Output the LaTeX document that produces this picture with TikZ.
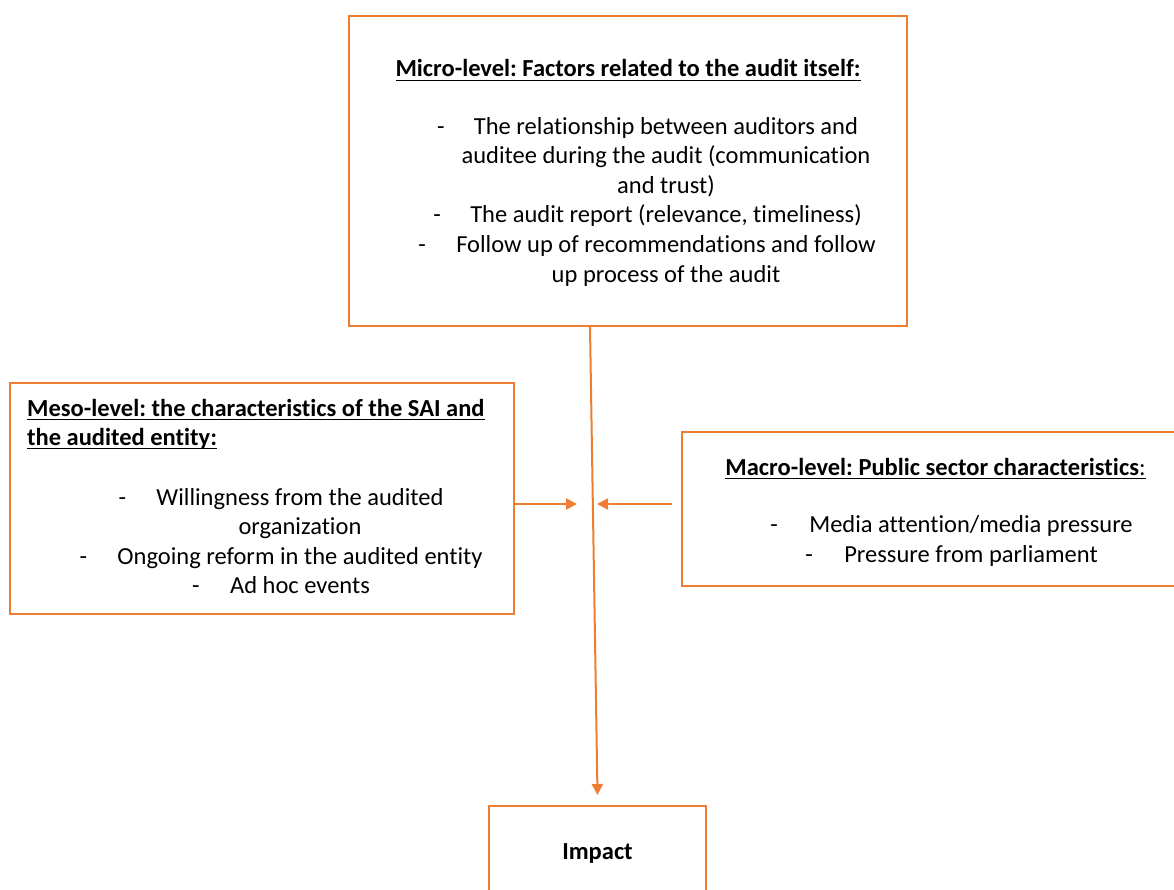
\documentclass[tikz,border=0pt]{standalone}
\usepackage{fontspec}
\setmainfont[Ligatures=NoCommon, RawFeature={-liga;-clig;-calt;-dlig}]{Carlito}
\frenchspacing
\usetikzlibrary{arrows.meta}
\definecolor{lvlorange}{HTML}{ED7D31}
\newcommand{\ulfix}[1]{\setbox0\hbox{#1}\rlap{\vrule width\wd0 height -2.6pt depth 3.8pt}\box0}

\begin{document}
\begin{tikzpicture}[x=1pt, y=-1pt,
  box/.style={draw=lvlorange, line width=2pt, inner sep=0pt},
  txt/.style={inner sep=0pt, anchor=base, font=\fontsize{24.5}{29.8}\selectfont},
  bul/.style={txt, anchor=base east},
  link/.style={draw=lvlorange, line width=2pt, -{Triangle[length=11pt,width=11pt]}}]

\useasboundingbox (0,0) rectangle (1174,890);

% the four boxes
\node[box, minimum width=558pt, minimum height=310pt] (micro) at (628,171) {};
\node[box, minimum width=504pt, minimum height=231pt] (meso) at (262,498.5) {};
\node[box, minimum width=500pt, minimum height=154pt] (macro) at (932,509) {};
\node[box, minimum width=217pt, minimum height=94pt, font=\fontsize{24.5}{29.8}\selectfont\bfseries] (impact) at (597.5,853) {Impact};

% micro level
\node[txt] (microT) at (628,77) {\ulfix{\textbf{Micro-level: Factors related to the audit itself:}}};
\node[txt] (micro1) at (666,135) {The relationship between auditors and};
\node[txt] (micro2) at (666,164) {auditee during the audit (communication};
\node[txt] (micro3) at (666,194) {and trust)};
\node[txt] (micro4) at (666,223) {The audit report (relevance, timeliness)};
\node[txt] (micro5) at (666,253) {Follow up of recommendations and follow};
\node[txt] (micro6) at (666,283) {up process of the audit};
\node[bul] (microD1) at ([xshift=-29pt]micro1.base west) {-};
\node[bul] (microD4) at ([xshift=-29pt]micro4.base west) {-};
\node[bul] (microD5) at ([xshift=-30pt]micro5.base west) {-};

% meso level
\node[txt, anchor=base west] (mesoT1) at (27,416) {\ulfix{\textbf{Meso-level: the characteristics of the SAI and}}};
\node[txt, anchor=base west] (mesoT2) at (27,445) {\ulfix{\textbf{the audited entity:}}};
\node[txt] (meso1) at (300,505) {Willingness from the audited};
\node[txt] (meso2) at (300,534) {organization};
\node[txt] (meso3) at (300,564) {Ongoing reform in the audited entity};
\node[txt] (meso4) at (300,593) {Ad hoc events};
\node[bul] (mesoD1) at ([xshift=-30pt]meso1.base west) {-};
\node[bul] (mesoD3) at ([xshift=-30pt]meso3.base west) {-};
\node[bul] (mesoD4) at ([xshift=-30pt]meso4.base west) {-};

% macro level
\node[txt] (macroT) at (935.5,475) {\ulfix{\textbf{Macro-level: Public sector characteristics}:}};
\node[txt] (macro1) at (971,532) {Media attention/media pressure};
\node[txt] (macro2) at (971,562) {Pressure from parliament};
\node[bul] (macroD1) at ([xshift=-31pt]macro1.base west) {-};
\node[bul] (macroD2) at ([xshift=-31pt]macro2.base west) {-};

% connectors
\coordinate (mesoEnd) at (577,504);
\coordinate (macroStart) at (672,504);
\coordinate (macroEnd) at (597,504);
\draw[link] ([xshift=-38pt]micro.south) -- ([yshift=10pt]impact.north);
\draw[link] ([yshift=-5.5pt]meso.east) -- (mesoEnd);
\draw[link] (macroStart) -- (macroEnd);
\end{tikzpicture}
\end{document}
